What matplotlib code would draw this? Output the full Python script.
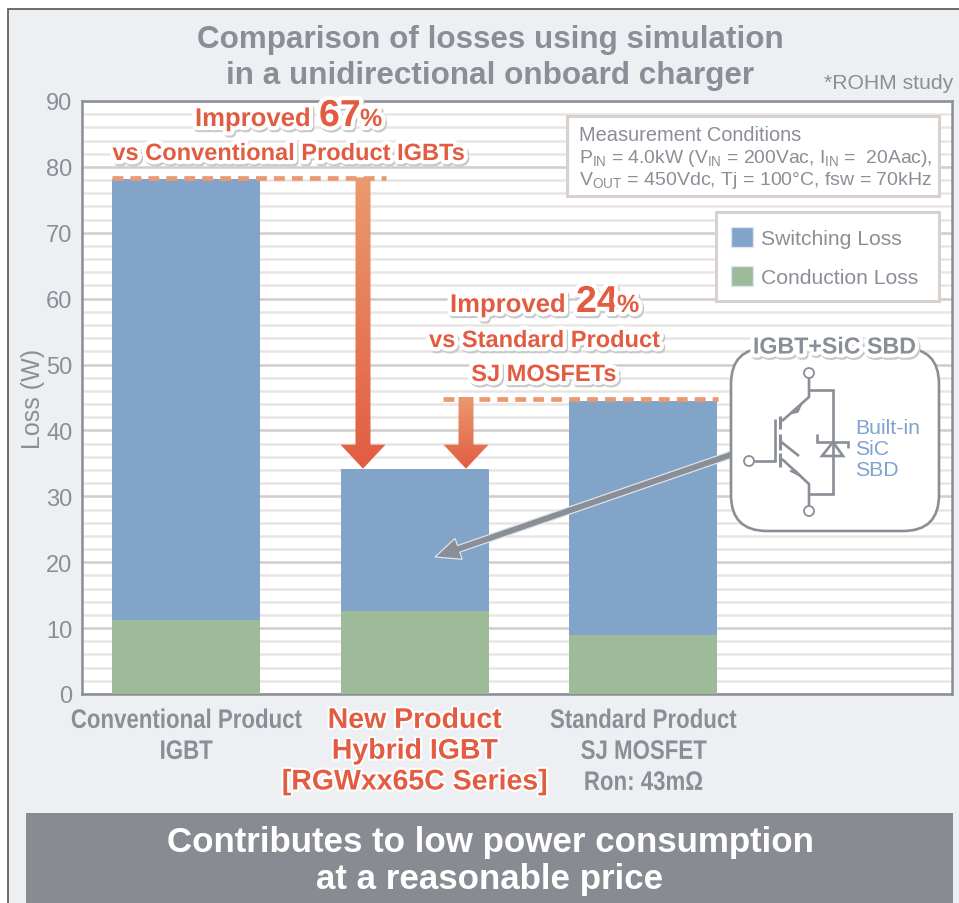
import matplotlib
matplotlib.use("Agg")
import matplotlib.patheffects as pe
import matplotlib.pyplot as plt
import numpy as np
from matplotlib.colors import LinearSegmentedColormap
from matplotlib.patches import Circle, FancyBboxPatch, Patch, Polygon, Rectangle
from matplotlib.transforms import Affine2D

plt.rcParams["font.family"] = ["Liberation Sans", "DejaVu Sans"]
plt.rcParams["mathtext.fontset"] = "custom"
plt.rcParams["mathtext.rm"] = "Liberation Sans"
plt.rcParams["mathtext.default"] = "rm"

products = ["Conventional Product\nIGBT", "New Product\nHybrid IGBT\n[RGWxx65C Series]", "Standard Product\nSJ MOSFET\nRon: 43mΩ"]
conduction_loss = [11.2, 12.6, 9.0]
switching_loss = [66.9, 21.6, 35.5]
y_ticks = list(range(0, 91, 10))

GREY = "#8A8E96"
RED = "#E25C41"
ORANGE = "#EA9A70"
BLUE = "#82A4C9"
GREEN = "#9DBB98"
BG = "#EEEFF2"
BOX_EDGE = "#D8D2CE"
W, H = 959, 904


class SqueezeX(pe.AbstractPathEffect):
    # no condensed font installed, so narrow the glyphs around the tick centre
    def __init__(self, factor, center):
        super().__init__()
        self.factor = factor
        self.center = center

    def draw_path(self, renderer, gc, tpath, affine, rgbFace=None):
        squeeze = Affine2D().translate(-self.center, 0).scale(self.factor, 1).translate(self.center, 0)
        renderer.draw_path(gc, tpath, affine + squeeze, rgbFace)


halo = [
    pe.Stroke(linewidth=6, foreground="#C9C9C9", offset=(1, -1.5)),
    pe.Stroke(linewidth=6, foreground="white"),
    pe.Normal(),
]
thin_halo = [pe.Stroke(linewidth=3, foreground="white"), pe.Normal()]

fig = plt.figure(figsize=(W / 100, H / 100), dpi=100, facecolor="white")

# background panel behind everything
bg = fig.add_axes([0, 0, 1, 1], zorder=0)
bg.set_xlim(0, W)
bg.set_ylim(H, 0)
bg.axis("off")
bg.add_patch(Rectangle((8, 10), W, H, facecolor=BG, edgecolor="#555555", lw=1.2))
bg.add_patch(Rectangle((26, 814), 927, 90, facecolor="#888B92", edgecolor="none"))
bg.text(490, 843, "Contributes to low power consumption", color="white", fontsize=25.1,
        fontweight="bold", ha="center", va="center")
bg.text(490, 880, "at a reasonable price", color="white", fontsize=25.1,
        fontweight="bold", ha="center", va="center")
bg.text(490, 40, "Comparison of losses using simulation", color=GREY, fontsize=22.6,
        fontweight="bold", ha="center", va="center")
bg.text(490, 76, "in a unidirectional onboard charger", color=GREY, fontsize=22.6,
        fontweight="bold", ha="center", va="center")
bg.text(953, 89, "*ROHM study", color=GREY, fontsize=15.2, ha="right", va="baseline")

# the chart itself
ax_left, ax_right, ax_top, ax_bottom = 82, 952, 102, 695
ax = fig.add_axes([ax_left / W, 1 - ax_bottom / H, (ax_right - ax_left) / W, (ax_bottom - ax_top) / H], zorder=1)
x = np.arange(len(products))
bar_w = 0.648
ax.bar(x, conduction_loss, bar_w, color=GREEN, zorder=3)
ax.bar(x, switching_loss, bar_w, bottom=conduction_loss, color=BLUE, zorder=3)
ax.set_xlim(-0.455, 3.35)
ax.set_ylim(0, 90)
ax.set_yticks(y_ticks)
ax.set_yticks(np.arange(0, 91, 2), minor=True)
ax.grid(axis="y", which="minor", color="#EAE5E5", lw=1.8, zorder=0)
ax.grid(axis="y", which="major", color="#D2CCCC", lw=1.8, zorder=1)
ax.tick_params(axis="y", which="both", length=0)
ax.tick_params(axis="y", labelsize=17, labelcolor=GREY, pad=7)
ax.tick_params(axis="x", length=0, pad=10)
ax.set_xticks(x)
ax.set_xticklabels(products)
for i, lab in enumerate(ax.get_xticklabels()):
    if i == 1:
        lab.set(color=RED, fontsize=20.5, fontweight="bold", linespacing=1.24, path_effects=thin_halo)
    else:
        tick_px = ax.transData.transform((i, 0))[0]
        lab.set(color=GREY, fontsize=19.3, fontweight="bold", linespacing=1.25,
                path_effects=[SqueezeX(0.83, tick_px)])
ax.set_ylabel("Loss (W)", color=GREY, fontsize=18, labelpad=1)
for spine in ax.spines.values():
    spine.set_color(GREY)
    spine.set_linewidth(1.8)

# legend frame is drawn separately, its padding is not even left and right
ax.add_patch(Rectangle((716 / W, 1 - 302 / H), 223 / W, 89 / H, transform=fig.transFigure, facecolor="white",
                       edgecolor=BOX_EDGE, lw=2.2, zorder=4))
leg = ax.legend(
    handles=[Patch(facecolor=BLUE, edgecolor="#DDE6F0", label="Switching Loss"),
             Patch(facecolor=GREEN, edgecolor="#DDE6F0", label="Conduction Loss")],
    loc="upper left", bbox_to_anchor=(731 / W, 1 - 228 / H), bbox_transform=fig.transFigure,
    fontsize=15.2, labelcolor=GREY, frameon=False,
    handlelength=1.05, handleheight=1.05, handletextpad=0.36, labelspacing=0.85, borderpad=0, borderaxespad=0,
)
leg.set_zorder(5)

# overlay in pixel coordinates for the callouts
ov = fig.add_axes([0, 0, 1, 1], zorder=2)
ov.patch.set_alpha(0)
ov.axis("off")


def value_y(v):
    return ax_bottom - v * (ax_bottom - ax_top) / 90


totals = [c + s for c, s in zip(conduction_loss, switching_loss)]
arrow_cmap = LinearSegmentedColormap.from_list("arrow", [ORANGE, RED])


def down_arrow(xc, y0, y1):
    head = 24
    pts = [(xc - 7.5, y0), (xc + 7.5, y0), (xc + 7.5, y1 - head), (xc + 22.5, y1 - head),
           (xc, y1), (xc - 22.5, y1 - head), (xc - 7.5, y1 - head)]
    poly = Polygon(pts, closed=True, facecolor="none", edgecolor="none")
    ov.add_patch(poly)
    im = ov.imshow(np.linspace(0, 1, 200).reshape(-1, 1), cmap=arrow_cmap, aspect="auto",
                   extent=(xc - 24, xc + 24, y1, y0), zorder=4)
    im.set_clip_path(poly)


ov.plot([112, 386], [value_y(totals[0]) - 1] * 2, color=ORANGE, lw=3.4, dashes=(2.3, 1.5), zorder=3)
ov.plot([443, 718], [value_y(totals[2]) - 2] * 2, color=ORANGE, lw=3.4, dashes=(2.3, 1.5), zorder=3)
down_arrow(363, value_y(totals[0]) - 2, value_y(totals[1]))
down_arrow(466, value_y(totals[2]) - 4, value_y(totals[1]))

ov.text(195, 127, "Improved", color=RED, fontsize=18.5, fontweight="bold", path_effects=halo, zorder=6)
ov.text(319, 127, "67", color=RED, fontsize=27, fontweight="bold", path_effects=halo, zorder=6)
ov.text(360, 127, "%", color=RED, fontsize=18, fontweight="bold", path_effects=halo, zorder=6)
ov.text(289, 161, "vs Conventional Product IGBTs", color=RED, fontsize=17, fontweight="bold",
        ha="center", path_effects=halo, zorder=6)
ov.text(450, 313, "Improved", color=RED, fontsize=18.5, fontweight="bold", path_effects=halo, zorder=6)
ov.text(576, 313, "24", color=RED, fontsize=27, fontweight="bold", path_effects=halo, zorder=6)
ov.text(617, 313, "%", color=RED, fontsize=18, fontweight="bold", path_effects=halo, zorder=6)
ov.text(545, 348, "vs Standard Product", color=RED, fontsize=17, fontweight="bold",
        ha="center", path_effects=halo, zorder=6)
ov.text(544, 382, "SJ MOSFETs", color=RED, fontsize=17, fontweight="bold",
        ha="center", path_effects=halo, zorder=6)

# measurement conditions box
ov.add_patch(Rectangle((567, 117), 372, 80, facecolor="white", edgecolor=BOX_EDGE, lw=2.2, zorder=2))
ov.text(579, 141, "Measurement Conditions", color=GREY, fontsize=14.4, zorder=6)
ov.text(579, 163, r"P$_{IN}$ = 4.0kW (V$_{IN}$ = 200Vac, I$_{IN}$ =  20Aac),", color=GREY, fontsize=13.9, zorder=6)
ov.text(579, 185, r"V$_{OUT}$ = 450Vdc, Tj = 100°C, fsw = 70kHz", color=GREY, fontsize=14, zorder=6)

# grey pointer from the inset to the new product bar
tip = np.array([435.0, 558.0])
tail = np.array([733.0, 455.0])
d = (tail - tip) / np.linalg.norm(tail - tip)
n = np.array([-d[1], d[0]])
neck = tip + d * 25
ov.add_patch(Polygon([tail + n * 3.5, neck + n * 3.5, neck + n * 11, tip, neck - n * 11, neck - n * 3.5, tail - n * 3.5],
                     closed=True, facecolor=GREY, edgecolor="#DDE3EA", lw=0.9, zorder=4))

# inset with the circuit symbol
ov.add_patch(FancyBboxPatch((731 + 36, 349 + 36), 208 - 72, 183 - 72, boxstyle="round,pad=36,rounding_size=36",
                            facecolor="white", edgecolor=GREY, lw=1.9, zorder=5))
ov.text(834, 348, "IGBT+SiC SBD", color=GREY, fontsize=16.7, fontweight="bold", ha="center", va="center",
        path_effects=halo, zorder=7)


def wire(*pts, lw=1.9):
    xs, ys = zip(*pts)
    ov.plot(xs, ys, color=GREY, lw=lw, solid_capstyle="butt", solid_joinstyle="miter", zorder=6)


wire((809, 379), (809, 398), (782, 422))
wire((809, 391), (833, 391), (833, 495), (809, 495))
wire((809, 507), (809, 485), (782, 460))
wire((780, 417), (780, 430), lw=2.2)
wire((780, 435), (780, 451), lw=2.2)
wire((780, 454), (780, 468), lw=2.2)
wire((775, 420), (775, 462), (754, 462))
wire((780, 442), (799, 457))
wire((817, 435), (817, 443), (848, 443), (848, 449))
ov.add_patch(Polygon([(833, 443), (822, 457), (843, 457)], closed=True, facecolor="none", edgecolor=GREY, lw=1.9, zorder=6))
ov.add_patch(Polygon([(790, 415), (802, 404), (798, 413)], closed=True, facecolor=GREY, edgecolor=GREY, lw=1, zorder=6))
ov.add_patch(Polygon([(802, 478), (790, 472), (795, 471)], closed=True, facecolor=GREY, edgecolor=GREY, lw=1, zorder=6))
for cx, cy in [(809, 374), (809, 512), (749, 462)]:
    ov.add_patch(Circle((cx, cy), 5, facecolor="white", edgecolor=GREY, lw=1.3, zorder=7))
for yy, s in zip([434, 455, 476], ["Built-in", "SiC", "SBD"]):
    ov.text(855, yy, s, color="#7FA3CC", fontsize=15.3, zorder=6)

ov.set_xlim(0, W)
ov.set_ylim(H, 0)
fig.savefig("out.png", dpi=100, facecolor="white")
